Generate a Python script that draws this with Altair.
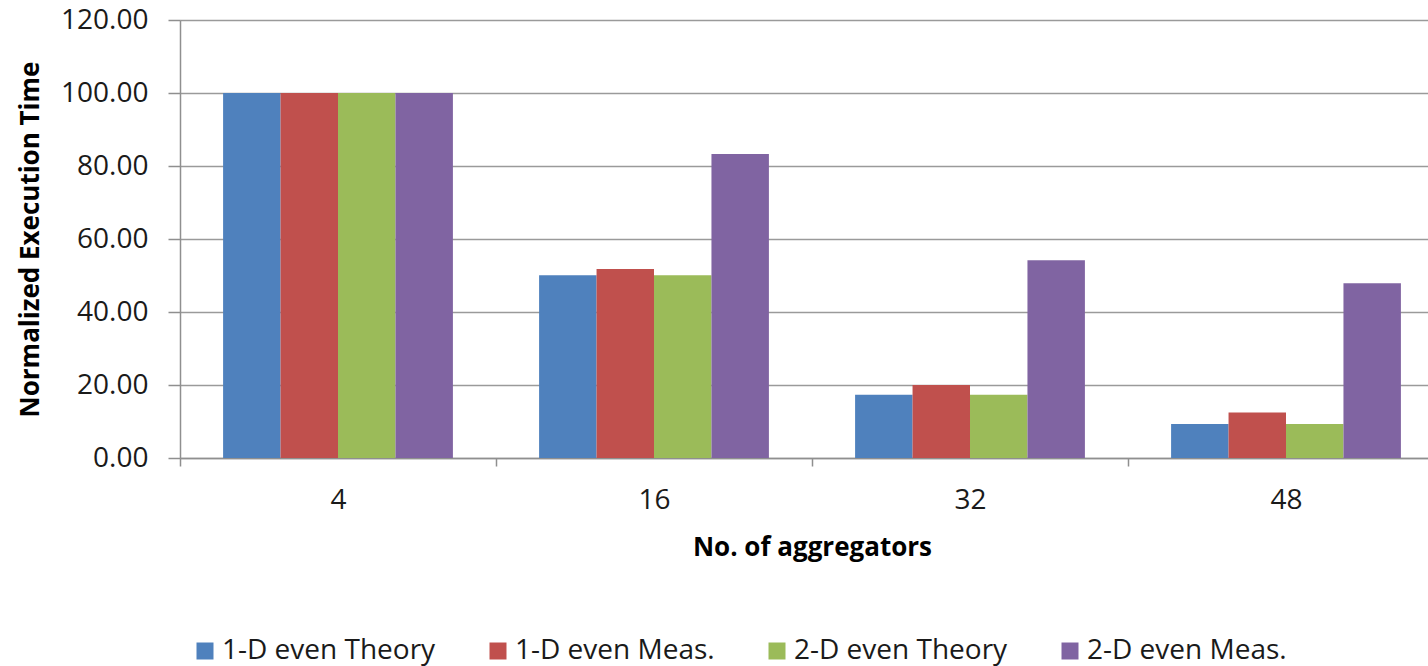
import altair as alt
import pandas as pd

# Number of aggregators on the x axis
aggregators = ["4", "16", "32", "48"]

# Series names, in legend order
series = ["1-D even Theory", "1-D even Meas.", "2-D even Theory", "2-D even Meas."]

# Normalized execution time per series, one value per aggregator count
one_d_theory = [100.0, 50.1, 17.3, 9.3]
one_d_meas = [100.0, 51.8, 20.0, 12.5]
two_d_theory = [100.0, 50.1, 17.3, 9.3]
two_d_meas = [100.0, 83.3, 54.2, 47.9]

colors = ["#4F81BD", "#C0504D", "#9BBB59", "#8064A2"]

values_by_series = [one_d_theory, one_d_meas, two_d_theory, two_d_meas]
rows = []
for name, vals in zip(series, values_by_series):
    for agg, v in zip(aggregators, vals):
        rows.append({"aggregators": agg, "series": name, "time": v})
df = pd.DataFrame(rows)

FONT = "Open Sans"

bars = alt.Chart(df).mark_bar(strokeWidth=0).encode(
    x=alt.X(
        "aggregators:N",
        sort=aggregators,
        # full-width category bands so ticks fall between groups
        scale=alt.Scale(range=[0, 1264], paddingInner=0, paddingOuter=0),
        axis=alt.Axis(
            title="No. of aggregators",
            labelAngle=0,
            tickBand="extent",
            tickSize=8,
            tickColor="#8f8f8f",
            tickWidth=1.5,
            domainColor="#8f8f8f",
            domainWidth=1.5,
            labelPadding=20,
            labelFont=FONT,
            labelFontSize=28,
            labelColor="#1a1a1a",
            labelBaseline="top",
            titleFont=FONT,
            titleFontSize=26,
            titleFontWeight="bold",
            titleColor="#000000",
            titleX=632,
            titleY=76,
            titleBaseline="top",
            titleAlign="center",
        ),
    ),
    xOffset=alt.XOffset(
        "series:N",
        sort=series,
        # gap between groups comes from the outer padding of the offset scale
        scale=alt.Scale(paddingInner=0, paddingOuter=0.75),
    ),
    y=alt.Y(
        "time:Q",
        scale=alt.Scale(domain=[0, 120], nice=False),
        axis=alt.Axis(
            title="Normalized Execution Time",
            values=[0, 20, 40, 60, 80, 100, 120],
            format=".2f",
            grid=True,
            gridColor="#9a9a9a",
            gridWidth=1.5,
            tickSize=12,
            tickColor="#8f8f8f",
            tickWidth=1.5,
            domainColor="#8f8f8f",
            domainWidth=1.5,
            labelPadding=20,
            labelFont=FONT,
            labelFontSize=28,
            labelColor="#1a1a1a",
            titleFont=FONT,
            titleFontSize=26,
            titleFontWeight="bold",
            titleColor="#000000",
            titleX=-150,
            titleY=219,
            titleAngle=-90,
            titleBaseline="middle",
            titleAlign="center",
        ),
    ),
    color=alt.Color(
        "series:N",
        sort=series,
        scale=alt.Scale(domain=series, range=colors),
        legend=alt.Legend(
            title=None,
            orient="none",
            legendX=11,
            legendY=617,
            direction="horizontal",
            columns=4,
            columnPadding=48,
            symbolType="square",
            symbolSize=289,
            symbolStrokeWidth=0,
            labelOffset=3,
            labelFont=FONT,
            labelFontSize=28,
            labelColor="#1a1a1a",
            labelLimit=400,
        ),
    ),
)

chart = bars.properties(
    width=1248,
    height=438,
    autosize=alt.AutoSizeParams(type="none"),
    padding={"left": 180, "top": 20, "right": 0, "bottom": 208},
).configure_view(stroke=None).configure(background="#ffffff")

chart.save("out.html", embed_options={"renderer": "svg", "actions": False})
